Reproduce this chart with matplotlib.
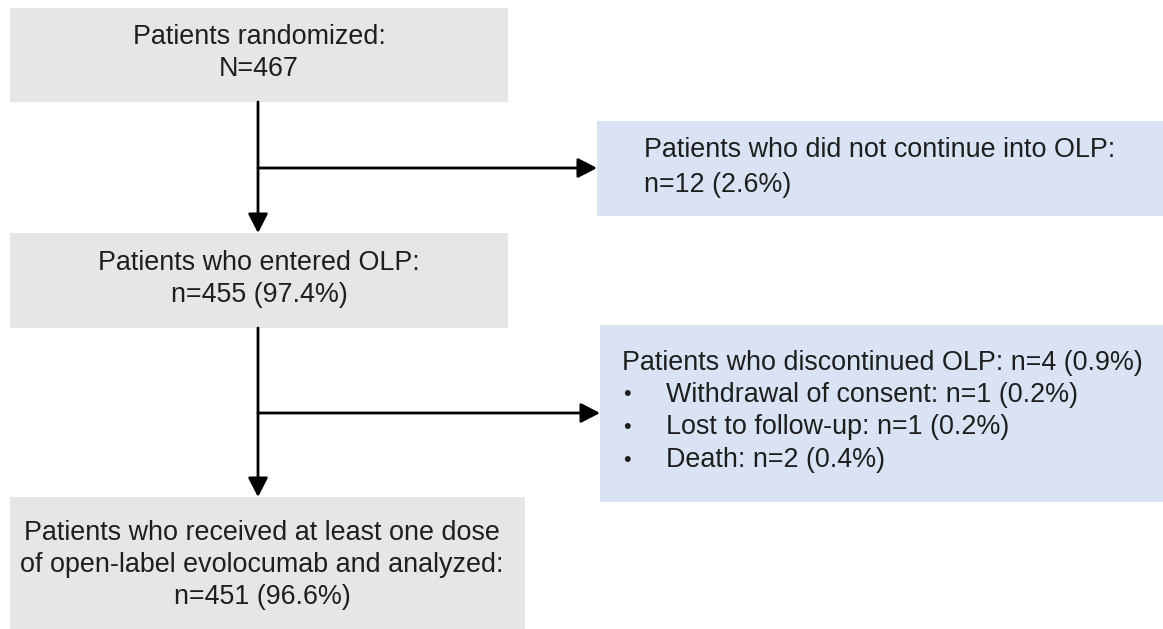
import matplotlib.pyplot as plt
from matplotlib.patches import Rectangle

plt.rcParams["font.family"] = ["Liberation Sans", "DejaVu Sans"]

# box texts
randomized_lines = ["Patients randomized:", "N=467"]
entered_lines = ["Patients who entered OLP:", "n=455 (97.4%)"]
analyzed_lines = ["Patients who received at least one dose",
                  "of open-label evolocumab and analyzed:",
                  "n=451 (96.6%)"]
not_continued_lines = ["Patients who did not continue into OLP:", "n=12 (2.6%)"]
discontinued_title = "Patients who discontinued OLP: n=4 (0.9%)"
discontinued_reasons = ["Withdrawal of consent: n=1 (0.2%)",
                        "Lost to follow-up: n=1 (0.2%)",
                        "Death: n=2 (0.4%)"]

GRAY = "#e6e6e6"
BLUE = "#dae3f3"
TXT = "#1e1e1e"
FS = 19.4
LINE = 32

fig = plt.figure(figsize=(11.63, 6.29), dpi=100)
ax = fig.add_axes([0, 0, 1, 1])
ax.set_xlim(0, 1163)
ax.set_ylim(629, 0)
ax.axis("off")


def box(x0, y0, x1, y1, color):
    ax.add_patch(Rectangle((x0, y0), x1 - x0, y1 - y0, facecolor=color,
                           edgecolor="none"))


def centered(lines, xc, y_first):
    for i, s in enumerate(lines):
        ax.text(xc, y_first + i * LINE, s, ha="center", va="center",
                fontsize=FS, color=TXT)


def arrow(x0, y0, x1, y1):
    ax.annotate("", xy=(x1, y1), xytext=(x0, y0),
                arrowprops=dict(arrowstyle="-|>,head_length=0.58,head_width=0.3",
                                color="black", lw=2, mutation_scale=20,
                                shrinkA=0, shrinkB=0))


# left column
box(10, 8, 508, 102, GRAY)
centered(randomized_lines, 259, 37)

box(10, 233, 508, 328, GRAY)
centered(entered_lines, 259, 263)

box(10, 497, 525, 629, GRAY)
centered(analyzed_lines, 262, 533)

# right column
box(597, 121, 1163, 216, BLUE)
for i, s in enumerate(not_continued_lines):
    ax.text(644, 150 + i * 35, s, ha="left", va="center", fontsize=FS, color=TXT)

box(600, 325, 1163, 502, BLUE)
ax.text(622, 363, discontinued_title, ha="left", va="center", fontsize=FS, color=TXT)
for i, s in enumerate(discontinued_reasons):
    y = 395 + i * 32.5
    ax.text(627, y, "\u2022", ha="center", va="center", fontsize=FS * 0.8, color=TXT)
    ax.text(666, y, s, ha="left", va="center", fontsize=FS, color=TXT)

# connectors
arrow(258, 102, 258, 233)
arrow(258, 168, 597, 168)

arrow(258, 328, 258, 497)
arrow(258, 413, 600, 413)

fig.savefig("out.png", dpi=100)
